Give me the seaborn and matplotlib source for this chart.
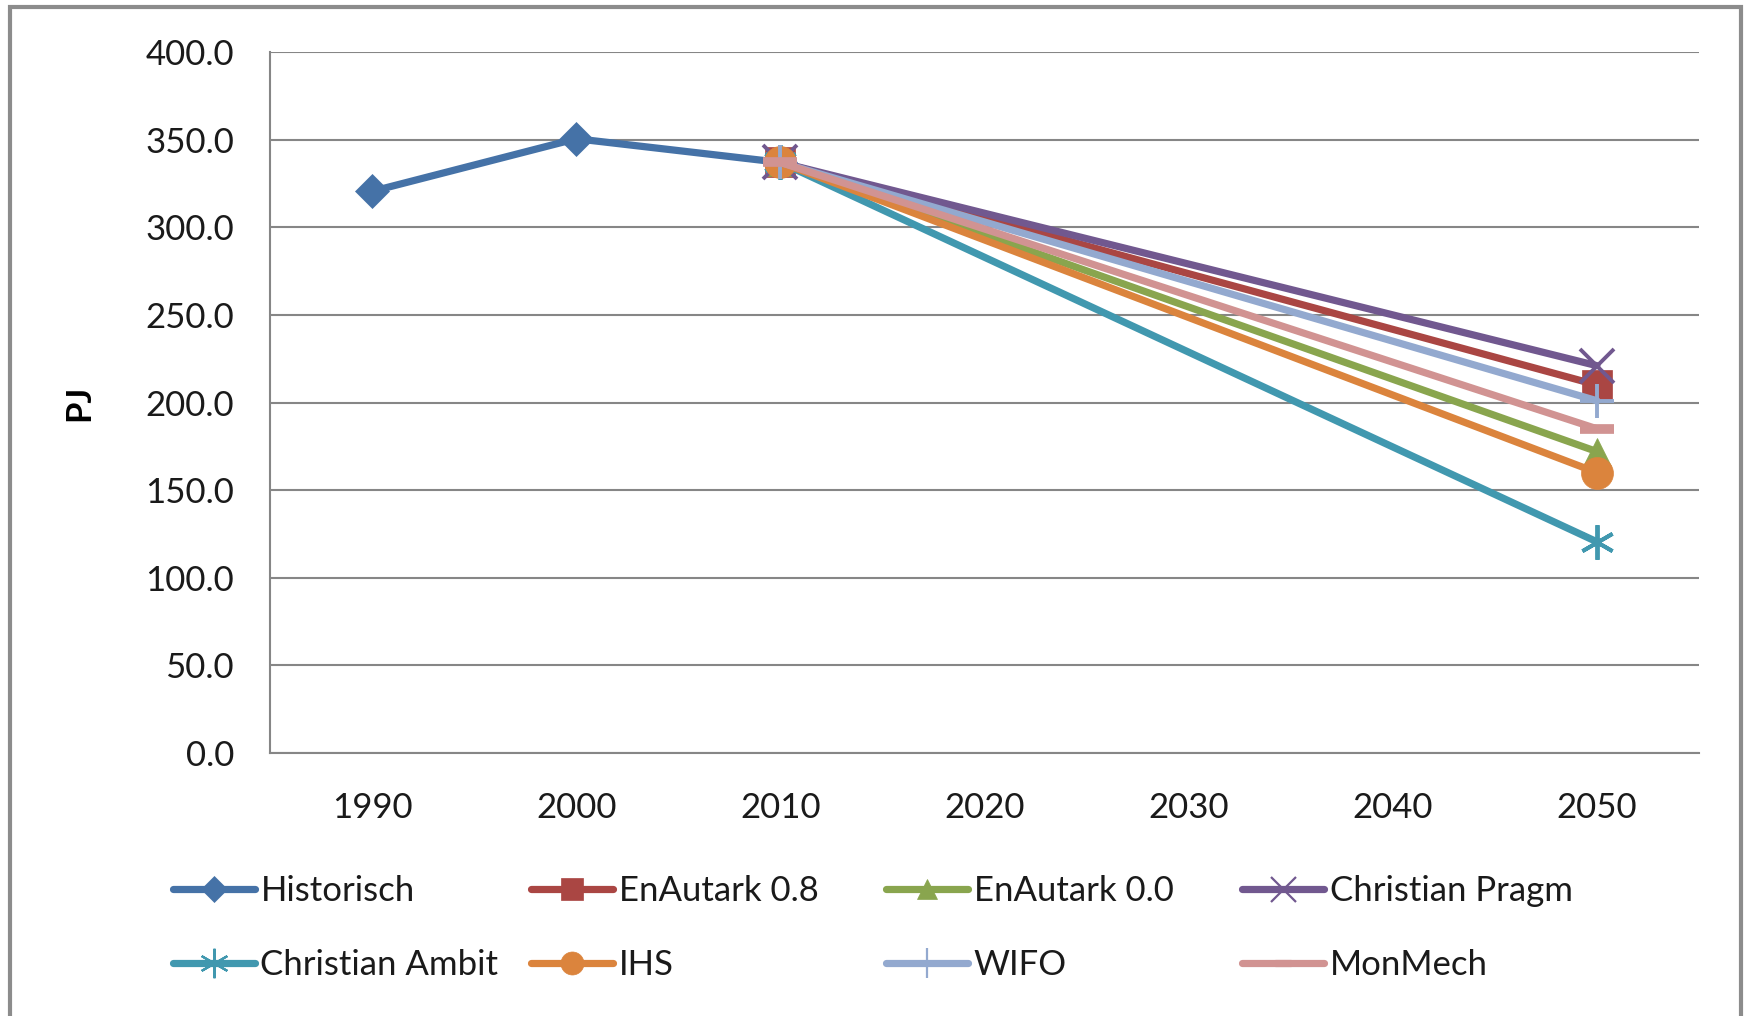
import matplotlib
matplotlib.use("Agg")
import matplotlib.pyplot as plt
from matplotlib.lines import Line2D
from matplotlib.patches import Rectangle
import seaborn as sns

# Energy demand scenarios (PJ)
hist_years = [1990, 2000, 2010]
hist_values = [320.5, 350.5, 337.0]

proj_years = [2010, 2050]
enautark_08 = [337.0, 210.0]
enautark_00 = [337.0, 172.0]
christian_pragm = [337.0, 221.0]
christian_ambit = [337.0, 120.5]
ihs = [337.0, 160.0]
wifo = [337.0, 201.0]
monmech = [337.0, 185.0]

year_labels = ["1990", "2000", "2010", "2020", "2030", "2040", "2050"]
y_ticks = [0, 50, 100, 150, 200, 250, 300, 350, 400]

sns.set_theme(style="white")
plt.rcParams["font.family"] = ["Lato", "DejaVu Sans"]

GRID = "#868686"
TEXT = "#1a1a1a"

fig = plt.figure(figsize=(17.44, 10.16), dpi=100)
ax = fig.add_axes([270 / 1744, 1 - 753 / 1016, (1699 - 270) / 1744, (753 - 52) / 1016])

asterisk = (6, 2, 0)
# name, x, y, colour, marker, marker size, edge width, legend marker scale, legend edge width
series = [
    ("Historisch", hist_years, hist_values, "#4572A7", "D", 17, 0.5, 0.75, 0.5),
    ("EnAutark 0.8", proj_years, enautark_08, "#AA4643", "s", 22, 0.5, 0.72, 0.5),
    ("EnAutark 0.0", proj_years, enautark_00, "#89A54E", "^", 20, 0.5, 0.72, 0.5),
    ("Christian Pragm", proj_years, christian_pragm, "#71588F", "x", 24, 2.8, 0.75, 1.6),
    ("Christian Ambit", proj_years, christian_ambit, "#4198AF", asterisk, 25, 2.8, 0.85, 1.6),
    ("IHS", proj_years, ihs, "#DB843D", "o", 23, 0.5, 0.72, 0.5),
    ("WIFO", proj_years, wifo, "#93A9CF", "+", 25, 2.8, 0.85, 1.6),
    ("MonMech", proj_years, monmech, "#D19392", "_", 24, 7, 0.5, 5.2),
]

handles = {}
for name, xs, ys, color, marker, ms, mew, lscale, lmew in series:
    sns.lineplot(x=xs, y=ys, ax=ax, color=color, linewidth=5.2,
                 marker=marker, markersize=ms, markeredgewidth=mew,
                 markeredgecolor=color, markerfacecolor=color,
                 solid_capstyle="round", legend=False, zorder=3)
    handles[name] = Line2D([0], [0], color=color, linewidth=5.2,
                           marker=marker, markersize=ms * lscale,
                           markeredgewidth=lmew, markeredgecolor=color,
                           markerfacecolor=color, solid_capstyle="round")

# Axes styling: category-style x axis with ticks between years
ax.set_xlim(1985, 2055)
ax.set_ylim(0, 400)
ax.set_yticks(y_ticks)
ax.set_yticklabels([f"{v:.1f}" for v in y_ticks], fontsize=25, color=TEXT)
ax.set_xticks([1990 + 10 * i for i in range(len(year_labels))])
ax.set_xticklabels(year_labels, fontsize=25, color=TEXT)
ax.set_xticks([1985 + 10 * i for i in range(len(year_labels) + 1)], minor=True)
ax.tick_params(axis="x", which="major", length=0, pad=28)
ax.tick_params(axis="x", which="minor", length=15, width=1.5, color=GRID, direction="out")
ax.tick_params(axis="y", length=12, width=1.5, color=GRID, direction="out", pad=14)
ax.yaxis.grid(True, color=GRID, linewidth=1.5)
ax.xaxis.grid(False)
for side in ["top", "right"]:
    ax.spines[side].set_visible(False)
for side in ["left", "bottom"]:
    ax.spines[side].set_color(GRID)
    ax.spines[side].set_linewidth(1.5)
ax.set_xlabel("")
ax.set_ylabel("PJ", fontsize=25, fontweight="bold", color="black", labelpad=36)

# Legend in four columns, two rows each
columns = [
    ["Historisch", "Christian Ambit"],
    ["EnAutark 0.8", "IHS"],
    ["EnAutark 0.0", "WIFO"],
    ["Christian Pragm", "MonMech"],
]
col_x = [173, 531, 886, 1242]
for names, x0 in zip(columns, col_x):
    fig.legend([handles[n] for n in names], names,
               loc="center left", bbox_to_anchor=(x0 / 1744, 1 - 928 / 1016),
               frameon=False, fontsize=25, handlelength=2.35, handletextpad=0.17,
               labelspacing=1.2, borderpad=0, borderaxespad=0,
               labelcolor=TEXT)

# Outer chart frame
fig.patches.append(Rectangle((10 / 1744, -0.05), (1741 - 10) / 1744, 1.05 - 7 / 1016,
                             transform=fig.transFigure, fill=False,
                             edgecolor="#8c8c8c", linewidth=3))

fig.savefig("out.png", dpi=100)
